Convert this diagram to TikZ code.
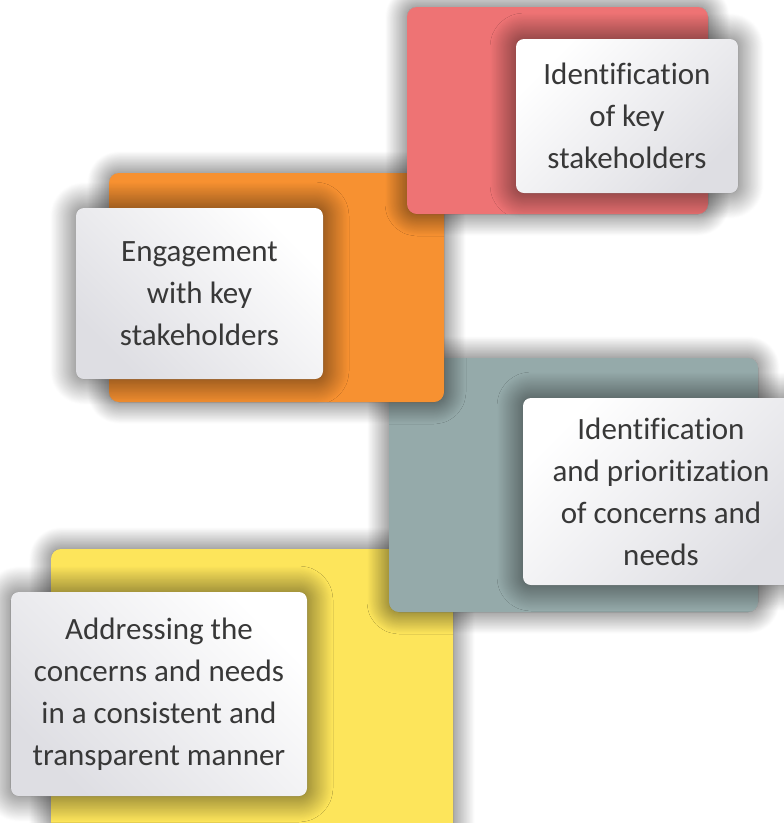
\documentclass[tikz,border=0pt]{standalone}
\usepackage{fontspec}
\setmainfont[Ligatures=NoCommon]{Carlito}
\usetikzlibrary{shadows.blur}
\definecolor{cred}{HTML}{EE7374}
\definecolor{corange}{HTML}{F79131}
\definecolor{cgray}{HTML}{95AAAA}
\definecolor{cyellow}{HTML}{FDE55B}
\definecolor{clabel}{HTML}{DEDEE3}
\definecolor{ctext}{HTML}{383838}
\begin{document}
\begin{tikzpicture}[x=1pt,y=-1pt,
  card/.style={rounded corners=10pt, inner sep=0pt,
    blur shadow={shadow xshift=0pt, shadow yshift=0pt, shadow blur radius=22pt,
      shadow blur steps=30, shadow opacity=70}},
  tag/.style={rounded corners=8pt, inner sep=0pt, align=center, text=ctext,
    font=\fontsize{31}{42}\selectfont, top color=white, bottom color=clabel,
    blur shadow={shadow xshift=0pt, shadow yshift=0pt, shadow blur radius=26pt,
      shadow blur steps=30, shadow opacity=70}},
  tagL/.style={tag, shading angle=-45},
  tagR/.style={tag, shading angle=45}]
\useasboundingbox (0,0) rectangle (784,823);
\node[card, fill=cyellow, minimum width=402pt, minimum height=291pt] (ybox) at (252,694.5) {};
\node[tagL, minimum width=296pt, minimum height=204pt] (ytag) at (159,694)
  {Addressing the\\concerns and needs\\in a consistent and\\transparent manner};
\node[card, fill=cgray, minimum width=369pt, minimum height=254pt] (gbox) at (573.5,485) {};
\node[tagR, minimum width=276pt, minimum height=187pt] (gtag) at (661,491.5)
  {Identification\\and prioritization\\of concerns and\\needs};
\node[card, fill=corange, minimum width=335pt, minimum height=229pt] (obox) at (276.5,287.5) {};
\node[tagL, minimum width=247pt, minimum height=171pt] (otag) at (199.5,293.5)
  {Engagement\\with key\\stakeholders};
\node[card, fill=cred, minimum width=301pt, minimum height=207pt] (rbox) at (557.5,110.5) {};
\node[tagR, minimum width=222pt, minimum height=154pt] (rtag) at (627,116)
  {Identification\\of key\\stakeholders};
\end{tikzpicture}
\end{document}
